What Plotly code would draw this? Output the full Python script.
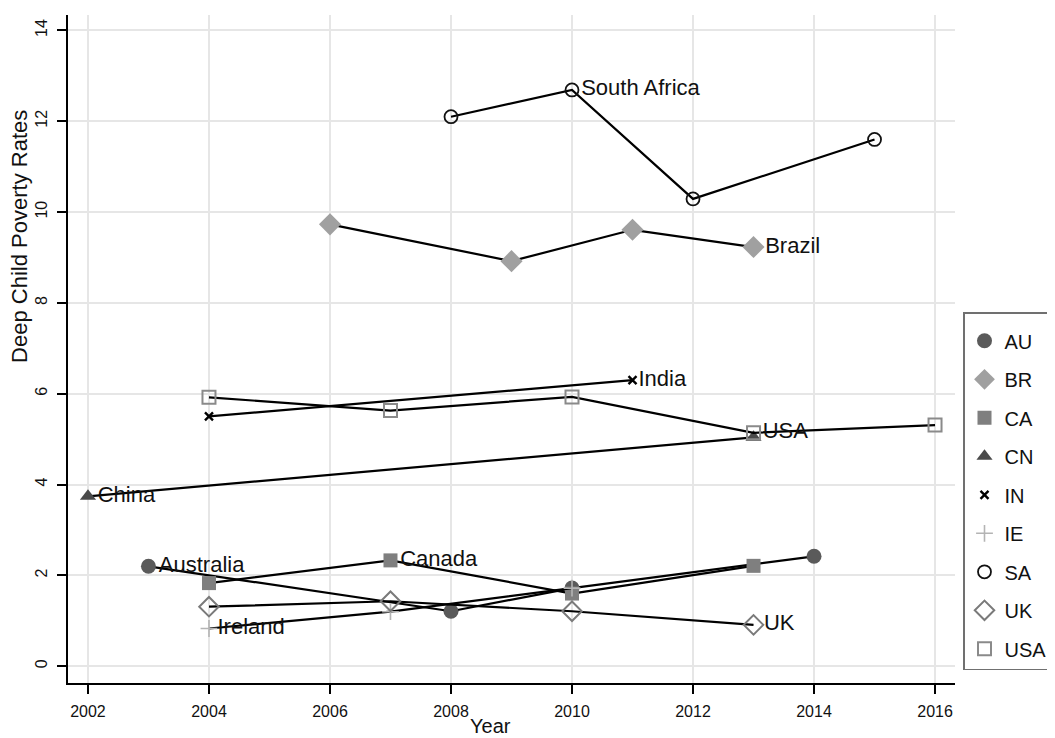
import plotly.graph_objects as go

# ---- data ----
au_years = [2003, 2008, 2010, 2014]
au_vals = [2.2, 1.21, 1.72, 2.42]
au_lab = ["Australia", "", "", ""]

br_years = [2006, 2009, 2011, 2013]
br_vals = [9.73, 8.92, 9.61, 9.23]
br_lab = ["", "", "", "Brazil"]

ca_years = [2004, 2007, 2010, 2013]
ca_vals = [1.83, 2.33, 1.6, 2.21]
ca_lab = ["", "Canada", "", ""]

cn_years = [2002, 2013]
cn_vals = [3.74, 5.04]
cn_lab = ["China", ""]

in_years = [2004, 2011]
in_vals = [5.5, 6.3]
in_lab = ["", "India"]

ie_years = [2004, 2007, 2010]
ie_vals = [0.83, 1.2, 1.72]
ie_lab = ["Ireland", "", ""]

sa_years = [2008, 2010, 2012, 2015]
sa_vals = [12.1, 12.69, 10.29, 11.6]
sa_lab = ["", "South Africa", "", ""]

uk_years = [2004, 2007, 2010, 2013]
uk_vals = [1.31, 1.43, 1.21, 0.91]
uk_lab = ["", "", "", "UK"]

us_years = [2004, 2007, 2010, 2013, 2016]
us_vals = [5.92, 5.63, 5.93, 5.14, 5.31]
us_lab = ["", "", "", "USA", ""]

legend_names = ["AU", "BR", "CA", "CN", "IN", "IE", "SA", "UK", "USA"]
x_ticks = [2002, 2004, 2006, 2008, 2010, 2012, 2014, 2016]
y_ticks = [0, 2, 4, 6, 8, 10, 12, 14]

FONT = "Liberation Sans, Arial, Helvetica, sans-serif"

series = [
    (au_years, au_vals, au_lab, dict(symbol="circle", size=15, color="#5a5a5a", line=dict(width=0))),
    (br_years, br_vals, br_lab, dict(symbol="diamond", size=17, color="#a0a0a0", line=dict(width=0))),
    (ca_years, ca_vals, ca_lab, dict(symbol="square", size=14, color="#7f7f7f", line=dict(width=0))),
    (cn_years, cn_vals, cn_lab, dict(symbol="triangle-up", size=14, color="#4a4a4a", line=dict(width=0))),
    (in_years, in_vals, in_lab, dict(symbol="x-thin", size=8, color="#000000", line=dict(width=2.4, color="#000000"))),
    (ie_years, ie_vals, ie_lab, dict(symbol="cross-thin", size=12, color="#b4b4b4", line=dict(width=1.6, color="#b4b4b4"))),
    (sa_years, sa_vals, sa_lab, dict(symbol="circle-open", size=13, color="#111111", line=dict(width=1.8, color="#111111"))),
    (uk_years, uk_vals, uk_lab, dict(symbol="diamond-open", size=15, color="#7a7a7a", line=dict(width=2, color="#7a7a7a"))),
    (us_years, us_vals, us_lab, dict(symbol="square-open", size=13, color="#8a8a8a", line=dict(width=2, color="#8a8a8a"))),
]

fig = go.Figure()

for (xs, ys, labs, mk), name in zip(series, legend_names):
    fig.add_trace(go.Scatter(
        x=xs, y=ys, text=labs, mode="lines+markers+text",
        textposition="middle right",
        textfont=dict(family=FONT, size=22, color="#111111"),
        line=dict(color="#000000", width=2.2),
        marker=mk, showlegend=False, hoverinfo="skip", cliponaxis=False,
    ))

for (xs, ys, labs, mk), name in zip(series, legend_names):
    fig.add_trace(go.Scatter(
        x=[None], y=[None], mode="markers", name=name,
        marker=mk, legendgroup=name, showlegend=True,
    ))

# page body has an 8px margin, so the figure is 8px smaller than the window
W, H = 1047, 730
fig.update_layout(
    width=W, height=H,
    margin=dict(l=60, r=100, t=7, b=55, autoexpand=False),
    plot_bgcolor="white", paper_bgcolor="white",
    font=dict(family=FONT, color="#111111"),
    showlegend=True,
    legend=dict(
        xref="container", yref="container",
        x=955 / W, y=1 - 304 / H, xanchor="left", yanchor="top",
        bordercolor="#707070", borderwidth=1.5,
        font=dict(family=FONT, size=20, color="#111111"),
        tracegroupgap=9.5, itemsizing="trace",
        bgcolor="white",
        title=dict(text="&nbsp;", font=dict(size=6)),
    ),
    xaxis=dict(
        range=[2001.67, 2016.33], tickvals=x_ticks,
        ticktext=[str(v) for v in x_ticks],
        showgrid=True, gridcolor="#e6e6e6", gridwidth=1.5,
        showline=True, linecolor="#000000", linewidth=1.5,
        ticks="outside", ticklen=9, tickwidth=1.5, tickcolor="#000000",
        tickfont=dict(family=FONT, size=16, color="#111111"),
        zeroline=False, ticklabelstandoff=4,
    ),
    yaxis=dict(
        range=[-0.37, 14.34], tickvals=y_ticks,
        ticktext=[str(v) for v in y_ticks],
        showgrid=True, gridcolor="#e6e6e6", gridwidth=1.5,
        showline=True, linecolor="#000000", linewidth=1.5,
        ticks="outside", ticklen=9, tickwidth=1.5, tickcolor="#000000",
        tickfont=dict(family=FONT, size=16, color="#111111"),
        tickangle=-90, zeroline=False, ticklabelstandoff=4,
    ),
    annotations=[
        dict(text="Year", xref="paper", yref="paper", x=0.476, y=-0.065,
             xanchor="center", yanchor="middle", showarrow=False,
             font=dict(family=FONT, size=20, color="#111111")),
        dict(text="Deep Child Poverty Rates", xref="paper", yref="paper",
             x=-0.054, y=0.668, xanchor="center", yanchor="middle",
             textangle=-90, showarrow=False,
             font=dict(family=FONT, size=22, color="#111111")),
    ],
)

fig.write_html("out.html")
